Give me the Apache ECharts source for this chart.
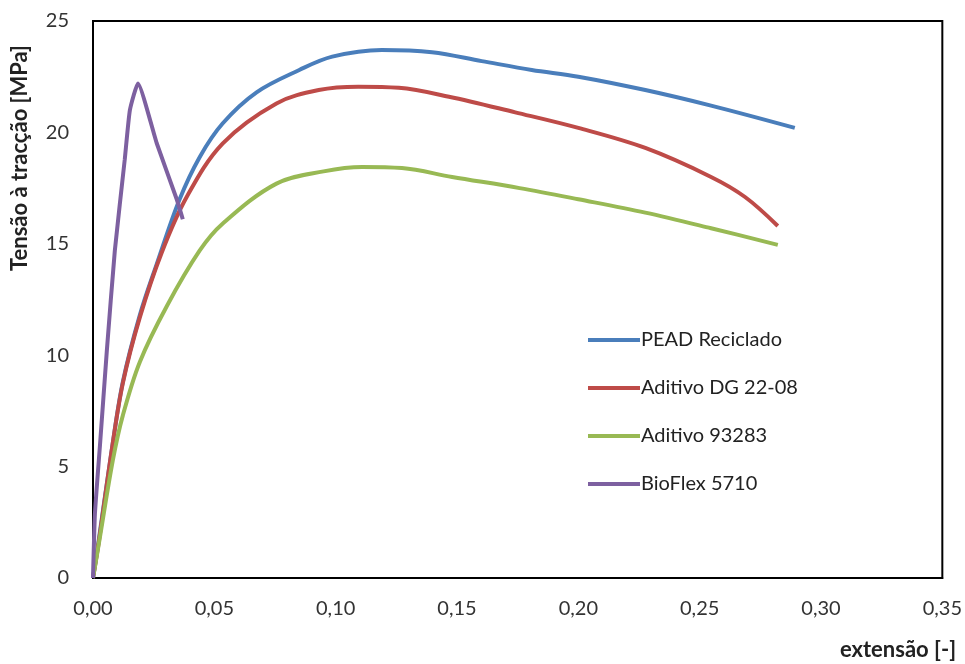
<!DOCTYPE html>
<html>
<head>
<meta charset="utf-8">
<script src="https://cdn.jsdelivr.net/npm/echarts@6/dist/echarts.min.js"></script>
<style>html,body{margin:0;padding:0;background:#fff}#c{width:965px;height:664px}</style>
</head>
<body>
<div id="c"></div>
<script>
const seriesNames = ['PEAD Reciclado', 'Aditivo DG 22-08', 'Aditivo 93283', 'BioFlex 5710'];
const xTicks = [0, 0.05, 0.10, 0.15, 0.20, 0.25, 0.30, 0.35];
const yTicks = [0, 5, 10, 15, 20, 25];

const peadReciclado = [
  [0,0],[0.0025,1.8],[0.0078,5.8],[0.0123,8.8],[0.0193,11.8],[0.0263,14.1],[0.0357,17.0],
  [0.044,18.9],[0.0534,20.4],[0.0674,21.8],[0.085,22.8],[0.0986,23.4],[0.119,23.7],[0.1397,23.6],
  [0.1602,23.2],[0.1808,22.8],[0.200,22.5],[0.2276,21.9],[0.2547,21.2],[0.2892,20.2]
];
const aditivoDG = [
  [0,0],[0.0025,1.7],[0.0078,5.8],[0.0123,8.75],[0.0193,11.7],[0.0283,14.6],[0.0386,17.1],
  [0.0534,19.5],[0.0756,21.3],[0.093,21.9],[0.1093,22.05],[0.126,22.0],[0.1467,21.6],[0.174,20.9],
  [0.200,20.2],[0.2276,19.3],[0.2547,18.0],[0.2687,17.1],[0.2822,15.8]
];
const aditivo93283 = [
  [0,0],[0.0025,1.6],[0.0082,5.3],[0.0123,7.3],[0.0193,9.7],[0.0304,12.2],[0.044,14.7],
  [0.0534,15.9],[0.0756,17.7],[0.095,18.25],[0.1109,18.45],[0.1273,18.4],[0.148,18.0],
  [0.1758,17.5],[0.200,17.0],[0.2276,16.4],[0.2547,15.7],[0.2822,14.95]
];
const bioFlex = [
  [0,0],[0.0008,2.9],[0.0029,6.0],[0.0057,10.2],[0.009,14.7],[0.0131,18.8],
  [0.0152,21.0],[0.0185,22.2],[0.0263,19.5],[0.0345,17.0],[0.037,16.1]
];
const colors = ['#4a7ebb', '#be4b48', '#98b954', '#7d60a0'];
const allData = [peadReciclado, aditivoDG, aditivo93283, bioFlex];

const fontFam = 'Lato, "Open Sans", sans-serif';
const chart = echarts.init(document.getElementById('c'));
chart.setOption({
  backgroundColor: '#fff',
  animation: false,
  grid: { left: 93, right: 20, top: 21, bottom: 86, show: true, borderColor: '#000', borderWidth: 2, backgroundColor: 'transparent' },
  xAxis: {
    type: 'value', min: 0, max: 0.35, interval: 0.05,
    axisLine: { show: true, lineStyle: { color: '#000', width: 2 } },
    axisTick: { show: false }, splitLine: { show: false },
    axisLabel: { margin: 21, fontSize: 20, color: '#333', fontFamily: fontFam,
      formatter: v => v.toFixed(2).replace('.', ',') }
  },
  yAxis: {
    type: 'value', min: 0, max: 25, interval: 5,
    axisLine: { show: true, lineStyle: { color: '#000', width: 2 } },
    axisTick: { show: false }, splitLine: { show: false },
    axisLabel: { margin: 24, fontSize: 20, color: '#333', fontFamily: fontFam }
  },
  legend: {
    orient: 'vertical', left: 583, top: 324, icon: 'rect',
    itemWidth: 52, itemHeight: 4, itemGap: 26,
    textStyle: { fontSize: 20, lineHeight: 22, color: '#222', fontFamily: fontFam, padding: [0,0,0,-4] },
    data: seriesNames
  },
  graphic: [
    { type: 'text', x: 20, y: 158, rotation: Math.PI / 2,
      style: { text: 'Tensão à tracção [MPa]', fontSize: 22, fontWeight: 'bold', fill: '#222', fontFamily: fontFam, align: 'center', verticalAlign: 'middle' } },
    { type: 'text', x: 898, y: 650,
      style: { text: 'extensão [-]', fontSize: 22, fontWeight: 'bold', fill: '#222', fontFamily: fontFam, align: 'center', verticalAlign: 'middle' } }
  ],
  series: seriesNames.map((n, i) => ({
    name: n, type: 'line', data: allData[i], showSymbol: false, symbol: 'none',
    smooth: i === 3 ? 0.15 : 0.35,
    lineStyle: { color: colors[i], width: 4 }, itemStyle: { color: colors[i] }
  }))
});
</script>
</body>
</html>
